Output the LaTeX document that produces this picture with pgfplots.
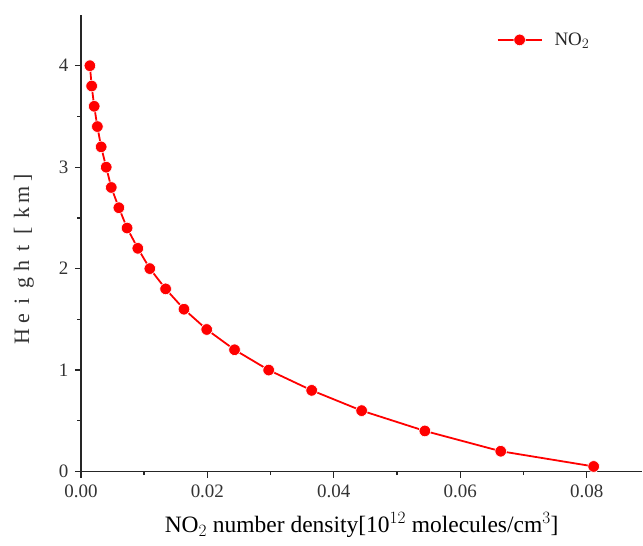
\documentclass[border=0pt]{standalone}
\usepackage{fontspec}
\setmainfont{Liberation Serif}
\usepackage{pgfplots}
\pgfplotsset{compat=1.18}
\definecolor{nored}{HTML}{FF0000}
\newcommand{\wide}[1]{\makebox[17.7pt]{#1}}

\begin{document}
\begin{tikzpicture}
\begin{axis}[
    scale only axis,
    width=562pt, height=457pt,
    xmin=0, xmax=0.0888,
    ymin=0, ymax=4.5,
    axis lines=left,
    axis line style={-, line width=1.3pt, black!85},
    tick align=outside,
    major tick length=6pt,
    minor tick length=3.5pt,
    every tick/.style={line width=1.3pt, black!85},
    xtick={0,0.02,0.04,0.06,0.08},
    ytick={0,1,2,3,4},
    minor x tick num=1,
    minor y tick num=1,
    scaled x ticks=false,
    xticklabel style={yshift=-4pt, /pgf/number format/.cd, fixed, fixed zerofill, precision=2},
    yticklabel style={xshift=-3pt},
    /pgf/number format/assume math mode=true,
    tick label style={font=\fontsize{19}{20}\selectfont, text=black!80},
    xlabel={NO$_2$ number density[10$^{12}$ molecules/cm$^3$]},
    xlabel style={font=\fontsize{23.5}{25}\selectfont, yshift=-8pt},
    ylabel={\wide{H}\wide{e}\wide{i}\wide{g}\wide{h}\wide{t}\wide{[}\wide{k}\wide{m}\wide{]}},
    ylabel style={font=\fontsize{22}{24}\selectfont, text=black!80,
        at={(axis description cs:0,0.47)}, yshift=57pt, anchor=center},
    legend style={draw=none, fill=none, at={(0.735,0.97)}, anchor=north west,
        font=\fontsize{19}{20}\selectfont, text=black!85},
    legend cell align=left,
    legend image code/.code={
        \draw[#1, mark repeat=2, mark phase=2] plot coordinates {(0pt,0pt) (22pt,0pt) (44pt,0pt)};
    },
]
\addplot[color=nored, line width=1.8pt, mark=*, mark size=5.8pt,
    mark options={draw=white, line width=0.6pt, fill=nored}] coordinates {
(0.00142,4.0)
(0.0017,3.8)
(0.0021,3.6)
(0.0026,3.4)
(0.0032,3.2)
(0.0040,3.0)
(0.0048,2.8)
(0.0060,2.6)
(0.0073,2.4)
(0.0090,2.2)
(0.0109,2.0)
(0.0134,1.8)
(0.0163,1.6)
(0.0199,1.4)
(0.0243,1.2)
(0.0297,1.0)
(0.0365,0.8)
(0.0444,0.6)
(0.0544,0.4)
(0.0664,0.2)
(0.0811,0.05)
};
\addlegendentry{\hspace{10pt}NO$_2$}
\end{axis}
\path (current axis.origin) ++(-81pt,-74pt) rectangle ++(643pt,546pt);
\end{tikzpicture}
\end{document}
